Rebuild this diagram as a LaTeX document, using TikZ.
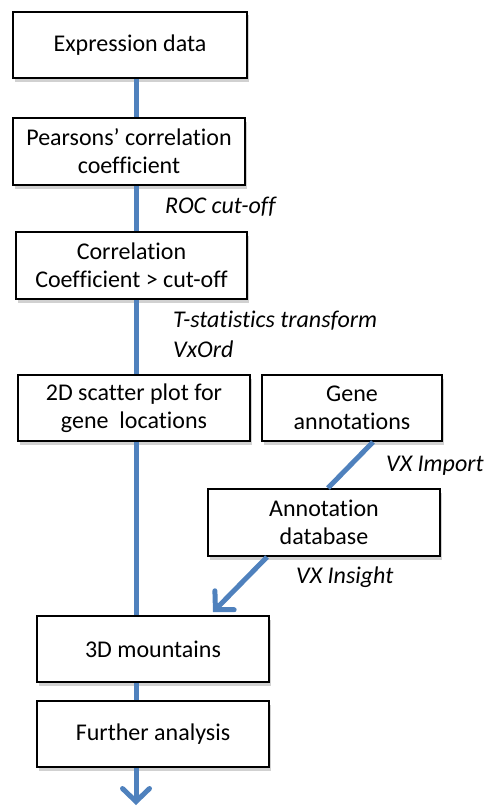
\documentclass[tikz,border=0pt]{standalone}
\usepackage{fontspec}
\setmainfont{Carlito}[RawFeature=-liga]
\usetikzlibrary{shadows,arrows.meta}
\definecolor{flowblue}{HTML}{4F81BD}
\begin{document}
\begin{tikzpicture}[x=1pt,y=-1pt,
  box/.style={draw=black, line width=2pt, fill=white, minimum height=66pt, align=center,
    inner sep=0pt, font=\fontsize{24}{28}\selectfont,
    drop shadow={shadow xshift=1.5pt, shadow yshift=-3.5pt, opacity=0.3, fill=black!60}},
  flow/.style={draw=flowblue, line width=5pt},
  lab/.style={anchor=west, inner sep=0pt, font=\fontsize{24}{28}\selectfont\itshape},
  tip/.style={-{Straight Barb[length=13pt,width=27pt,line cap=round]}}]
\useasboundingbox (0,0) rectangle (486,808);
\node[box, minimum width=234pt] (b1) at (130,45) {Expression data};
\node[box, minimum width=232pt, minimum height=67pt] (b2) at (129,151.5) {Pearsons’ correlation\\coefficient};
\node[box, minimum width=231pt, minimum height=67pt] (b3) at (131.5,265.5) {Correlation\\Coefficient > cut-off};
\node[box, minimum width=232pt] (b4) at (134,408) {2D scatter plot for\\gene\ \ locations};
\node[box, minimum width=180pt] (b5) at (352,408) {Gene\\annotations};
\node[box, minimum width=232pt, minimum height=67pt] (b6) at (324,522.5) {Annotation\\database};
\node[box, minimum width=232pt] (b7) at (153,649) {3D mountains};
\node[box, minimum width=232pt] (b8) at (153,734) {Further analysis};
\coordinate (m) at (136,0);
\coordinate (end) at (136,805);
\coordinate (d1) at (373,0);
\coordinate (d2) at (328,0);
\coordinate (d3) at (267,0);
\coordinate (d4) at (213,612);
\node[lab] (l1) at (165,207) {ROC cut-off};
\node[lab] (l2) at (173,321) {T-statistics transform};
\node[lab] (l3) at (173,349) {VxOrd};
\node[lab] (l4) at (386,466) {VX Import};
\node[lab] (l5) at (296,577) {VX Insight};
\draw[flow] (b1.south -| m) -- (b2.north -| m);
\draw[flow] (b2.south -| m) -- (b3.north -| m);
\draw[flow] (b3.south -| m) -- (b4.north -| m);
\draw[flow] (b4.south -| m) -- (b7.north -| m);
\draw[flow] (b7.south -| m) -- (b8.north -| m);
\draw[flow, tip] (b8.south -| m) -- (end);
\draw[flow] (b5.south -| d1) -- (b6.north -| d2);
\draw[flow, tip] (b6.south -| d3) -- (d4);
\end{tikzpicture}
\end{document}
